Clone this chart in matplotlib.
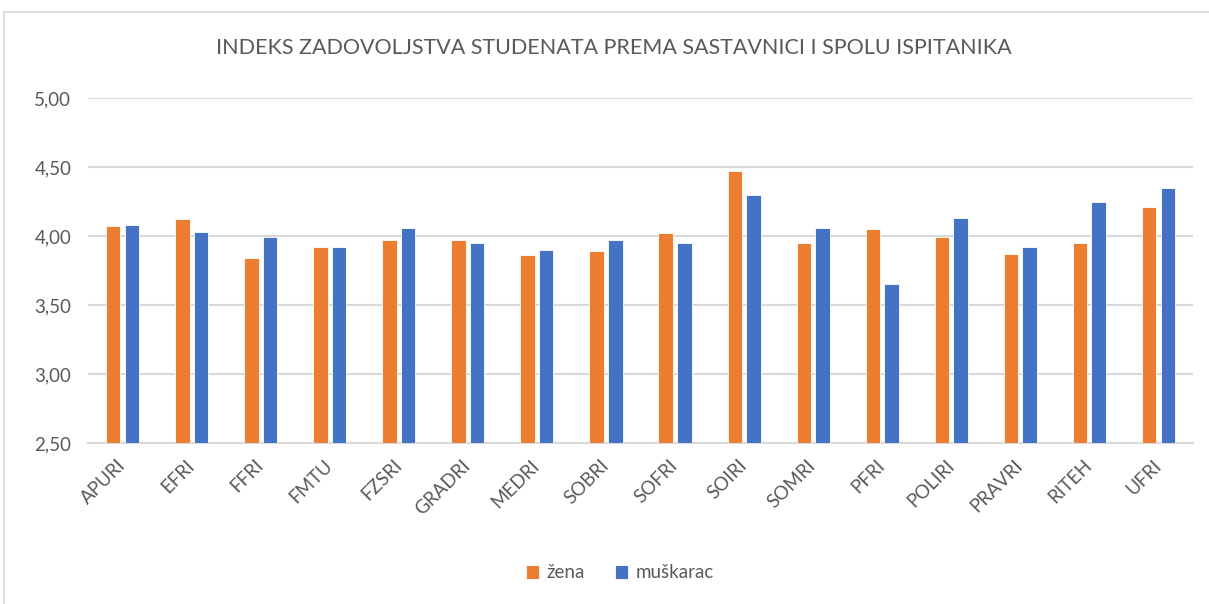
import matplotlib.pyplot as plt
from matplotlib.lines import Line2D
from matplotlib.ticker import FuncFormatter
import numpy as np

plt.rcParams['font.family'] = ['Lato', 'DejaVu Sans']

faculties = ["APURI", "EFRI", "FFRI", "FMTU", "FZSRI", "GRADRI", "MEDRI", "SOBRI",
             "SOFRI", "SOIRI", "SOMRI", "PFRI", "POLIRI", "PRAVRI", "RITEH", "UFRI"]
zena = [4.07, 4.12, 3.84, 3.92, 3.97, 3.97, 3.86, 3.89,
        4.02, 4.47, 3.95, 4.05, 3.99, 3.87, 3.95, 4.21]
muskarac = [4.08, 4.03, 3.99, 3.92, 4.06, 3.95, 3.90, 3.97,
            3.95, 4.30, 4.06, 3.65, 4.13, 3.92, 4.25, 4.35]
yticks = [2.5, 3.0, 3.5, 4.0, 4.5, 5.0]

orange = "#ED7D31"
blue = "#4472C4"
grid = "#D9D9D9"
txt = "#595959"

fig = plt.figure(figsize=(12.09, 6.04), dpi=100)
ax = fig.add_axes([88 / 1209, 1 - 443 / 604, (1193 - 88) / 1209, (443 - 98) / 604])

x = np.arange(len(faculties))
w = 0.21
ax.bar(x - 0.135, np.array(zena) - 2.5, w, bottom=2.5, color=orange,
       edgecolor="white", linewidth=0.6, label="žena", zorder=3)
ax.bar(x + 0.135, np.array(muskarac) - 2.5, w, bottom=2.5, color=blue,
       edgecolor="white", linewidth=0.6, label="muškarac", zorder=3)

ax.set_xlim(-0.5, len(faculties) - 0.5)
ax.set_ylim(2.5, 5.0)
ax.set_yticks(yticks)
ax.yaxis.set_major_formatter(FuncFormatter(lambda v, p: f"{v:.2f}".replace(".", ",")))
ax.grid(axis="y", color=grid, linewidth=1.5, zorder=0)
for s in ["top", "right", "left"]:
    ax.spines[s].set_visible(False)
ax.spines["bottom"].set_color(grid)
ax.spines["bottom"].set_linewidth(1.5)
ax.tick_params(axis="both", length=0, colors=txt, labelsize=13.5)
ax.tick_params(axis="y", pad=12)

ax.set_xticks(x)
ax.set_xticklabels(faculties, rotation=45, ha="right", va="center",
                   rotation_mode="anchor")
ax.tick_params(axis="x", pad=14)

fig.text(0.508, 1 - 48 / 604, "INDEKS ZADOVOLJSTVA STUDENATA PREMA SASTAVNICI I SPOLU ISPITANIKA",
         ha="center", va="center", fontsize=15.5, color=txt)

fig.legend(loc="center", bbox_to_anchor=(0.513, 1 - 573 / 604), ncol=2, frameon=False,
           fontsize=13.5, labelcolor=txt, handlelength=0.7, handleheight=0.7,
           handletextpad=0.4, columnspacing=1.6)

# outer chart frame
fig.add_artist(Line2D([4 / 1209, 4 / 1209], [0, 1 - 12 / 604], color=grid, linewidth=1.2))
fig.add_artist(Line2D([4 / 1209, 1], [1 - 12 / 604, 1 - 12 / 604], color=grid, linewidth=1.2))

fig.savefig("out.png", dpi=100)
